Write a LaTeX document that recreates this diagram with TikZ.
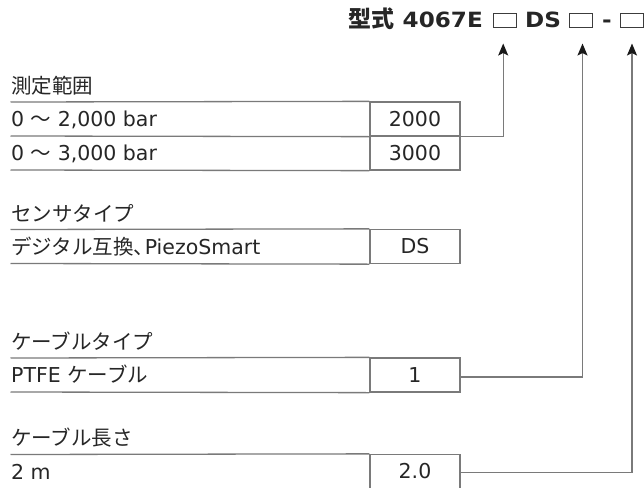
\documentclass[tikz,border=0pt]{standalone}
\usepackage{fontspec}
\setmainfont{DejaVu Sans}
\newfontfamily\jp{Noto Sans CJK JP}
\newfontfamily\ttlfont{DejaVu Sans}[FakeStretch=1.1]
\usetikzlibrary{arrows.meta,calc}
\definecolor{txt}{HTML}{262626}
\definecolor{rulegray}{HTML}{7A7A7A}
\tikzset{
  ttl/.style={inner sep=0pt, text=txt, font=\ttlfont\bfseries\fontsize{21}{25}\selectfont},
  codebox/.style={draw=txt!90, line width=1pt, minimum width=23pt, minimum height=14pt, inner sep=0pt},
  lbl/.style={inner sep=0pt, anchor=base west, text=txt, font=\fontsize{20.5}{24}\selectfont},
  rowtxt/.style={inner sep=0pt, anchor=base west, text=txt, font=\fontsize{20.5}{24}\selectfont},
  codecell/.style={draw=rulegray, line width=1.3pt, minimum width=90pt, minimum height=34pt, inner sep=0pt, text=txt, font=\fontsize{20.5}{24}\selectfont},
  rowrule/.style={draw=rulegray, line width=1.3pt},
  conn/.style={draw=rulegray, line width=1.3pt, -{Stealth[length=12pt,width=10pt,inset=2.5pt,color=black!90]}}
}
\begin{document}
\begin{tikzpicture}[x=1pt,y=-1pt]
\useasboundingbox (0,0) rectangle (644,487);
% title
\node[ttl, anchor=base east] (model) at (483,28) {{\jp\bfseries\fontsize{23}{25}\selectfont 型式} 4067E};
\node[codebox] (b1) at (504.7,21) {};
\node[ttl, anchor=base] (ds) at (543,28) {DS};
\node[codebox] (b2) at (580.5,21) {};
\node[ttl, anchor=base] (dash) at (607,28) {-};
\node[codebox] (b3) at (631.5,21) {};
\coordinate (a1) at ($(b1.south)+(-1.5,15)$);
\coordinate (a2) at ($(b2.south)+(2,15)$);
\coordinate (a3) at ($(b3.south)+(0.5,15)$);
% table 1
\node[lbl] (l1) at (11,93.5) {\jp 測定範囲};
\node[codecell] (c2000) at (415,119) {2000};
\node[codecell] (c3000) at (415,153) {3000};
\node[rowtxt] (r2000) at (11,126.5) {0 {\jp ～} 2,000 bar};
\node[rowtxt] (r3000) at (11,160.5) {0 {\jp ～} 3,000 bar};
\draw[rowrule] (10.5,102) -- (c2000.north west);
\draw[rowrule] (10.5,136) -- (c2000.south west);
\draw[rowrule] (10.5,170) -- (c3000.south west);
% table 2
\node[lbl] (l2) at (11,221) {\jp センサタイプ};
\node[codecell] (cds) at (415,246.5) {DS};
\node[rowtxt] (rds) at (11,254) {{\jp デジタル互換、}\kern-9.5pt PiezoSmart};
\draw[rowrule] (10.5,229.5) -- (cds.north west);
\draw[rowrule] (10.5,263.5) -- (cds.south west);
% table 3
\node[lbl] (l3) at (11,349) {\jp ケーブルタイプ};
\node[codecell] (c1) at (415,375) {1};
\node[rowtxt] (rptfe) at (11,382.5) {PTFE {\jp ケーブル}};
\draw[rowrule] (10.5,358) -- (c1.north west);
\draw[rowrule] (10.5,392) -- (c1.south west);
% table 4
\node[lbl] (l4) at (11,445.5) {\jp ケーブル長さ};
\node[codecell] (c20) at (415,471.5) {2.0};
\node[rowtxt] (r2m) at (11,479) {2 m};
\draw[rowrule] (10.5,454.5) -- (c20.north west);
% connectors
\draw[conn] (c2000.south east) -| (a1);
\draw[conn] ($(c1.east)+(0,2)$) -| (a2);
\draw[conn] ($(c20.east)+(0,1)$) -| (a3);
\end{tikzpicture}
\end{document}
